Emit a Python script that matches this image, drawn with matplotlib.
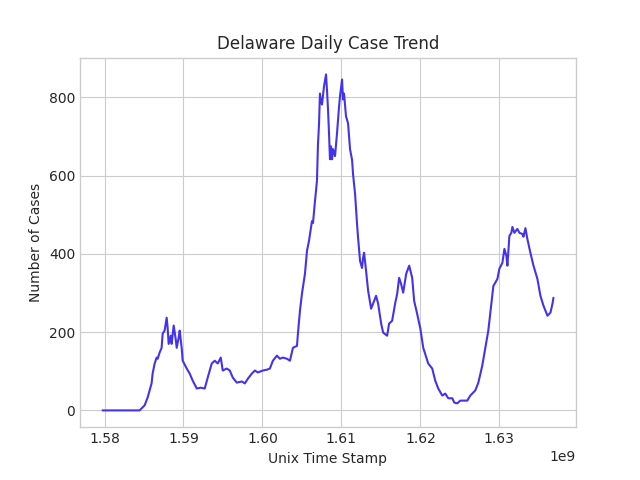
import numpy as np
import matplotlib
matplotlib.use("Agg")
import matplotlib.pyplot as plt

# unix time stamps, in units of 1e9 seconds
ts_e9 = [
    1.57975, 1.58444, 1.58508, 1.58546, 1.58596, 1.58609, 1.58635, 1.58660, 1.58673, 1.58698,
    1.58723, 1.58736, 1.58761, 1.58787, 1.58799, 1.58812, 1.58838, 1.58850, 1.58876, 1.58901,
    1.58914, 1.58939, 1.58952, 1.58977, 1.58990, 1.59041, 1.59079, 1.59117, 1.59168, 1.59218,
    1.59269, 1.59307, 1.59358, 1.59396, 1.59434, 1.59472, 1.59497, 1.59548, 1.59586, 1.59624,
    1.59675, 1.59739, 1.59777, 1.59815, 1.59865, 1.59904, 1.59942, 1.60005, 1.60056, 1.60094,
    1.60132, 1.60183, 1.60221, 1.60259, 1.60310, 1.60348, 1.60386, 1.60437, 1.60449, 1.60475,
    1.60500, 1.60538, 1.60564, 1.60589, 1.60627, 1.60640, 1.60665, 1.60690, 1.60703, 1.60716,
    1.60728, 1.60741, 1.60754, 1.60779, 1.60805, 1.60817, 1.60830, 1.60843, 1.60855, 1.60868,
    1.60881, 1.60893, 1.60919, 1.60944, 1.60970, 1.60982, 1.61008, 1.61020, 1.61033, 1.61058,
    1.61084, 1.61109, 1.61135, 1.61147, 1.61173, 1.61198, 1.61211, 1.61236, 1.61261, 1.61274,
    1.61287, 1.61312, 1.61338, 1.61376, 1.61401, 1.61439, 1.61465, 1.61503, 1.61528, 1.61579,
    1.61604, 1.61642, 1.61680, 1.61706, 1.61731, 1.61756, 1.61782, 1.61820, 1.61858, 1.61896,
    1.61921, 1.61959, 1.61985, 1.61998, 1.62036, 1.62099, 1.62150, 1.62188, 1.62226, 1.62277,
    1.62315, 1.62353, 1.62404, 1.62429, 1.62467, 1.62505, 1.62543, 1.62594, 1.62632, 1.62695,
    1.62734, 1.62784, 1.62822, 1.62860, 1.62886, 1.62924, 1.62975, 1.63000, 1.63038, 1.63064,
    1.63089, 1.63102, 1.63127, 1.63152, 1.63165, 1.63190, 1.63228, 1.63254, 1.63292, 1.63305,
    1.63330, 1.63355, 1.63393, 1.63432, 1.63482, 1.63520, 1.63558, 1.63584, 1.63609, 1.63647,
    1.63673, 1.63685,
]
cases = [
    0, 0, 13, 33, 69, 94, 120, 135, 132, 148,
    160, 196, 204, 237, 212, 170, 191, 170, 217, 183,
    160, 186, 204, 160, 127, 107, 94, 76, 56, 58,
    56, 84, 120, 127, 120, 135, 102, 107, 102, 84,
    71, 74, 69, 81, 94, 102, 97, 102, 104, 107,
    127, 140, 132, 135, 132, 127, 160, 165, 196, 255,
    298, 349, 408, 433, 484, 479, 535, 586, 680, 731,
    810, 790, 782, 828, 859, 820, 770, 708, 642, 675,
    642, 668, 650, 708, 777, 803, 846, 795, 810, 752,
    734, 668, 640, 604, 553, 476, 441, 382, 364, 390,
    403, 357, 306, 260, 273, 293, 273, 222, 199, 191,
    222, 229, 273, 298, 339, 323, 301, 349, 370, 339,
    280, 247, 222, 211, 160, 120, 107, 76, 56, 38,
    43, 31, 31, 20, 18, 25, 25, 25, 38, 51,
    71, 115, 160, 204, 250, 318, 336, 362, 377, 413,
    395, 370, 446, 454, 469, 454, 464, 454, 451, 444,
    466, 438, 403, 370, 336, 293, 268, 255, 242, 250,
    273, 288,
]

ts = np.array(ts_e9) * 1e9

plt.style.use("seaborn-v0_8-whitegrid")
plt.rcParams["font.family"] = ["DejaVu Sans"]
fig, ax = plt.subplots(figsize=(6.4, 4.8), dpi=100)
ax.plot(ts, cases, color="#4433ee", linewidth=1.5)
ax.set_title("Delaware Daily Case Trend", fontsize=12)
ax.set_xlabel("Unix Time Stamp")
ax.set_ylabel("Number of Cases")
for sp in ax.spines.values():
    sp.set_visible(True)
    sp.set_color("#cccccc")
plt.savefig("out.png", dpi=100)
